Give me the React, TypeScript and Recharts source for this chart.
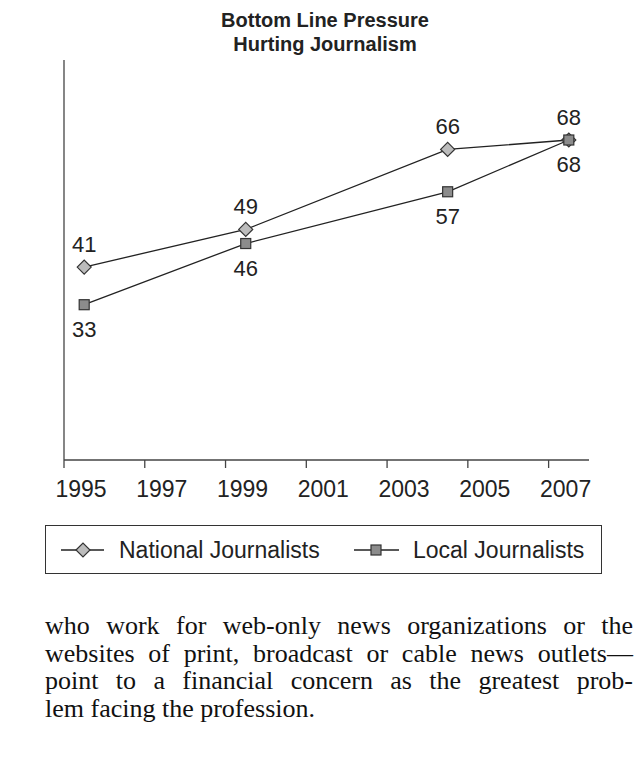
import React from "react";
import { LineChart, Line, XAxis, YAxis, LabelList } from "recharts";

const years = [1995.5, 1999.5, 2004.5, 2007.5];
const national = [41, 49, 66, 68];
const local = [33, 46, 57, 68];
const tickYears = [1995, 1997, 1999, 2001, 2003, 2005, 2007];

const data = years.map((year, i) => ({
  year,
  national: national[i],
  local: local[i],
}));

const FONT = "'Liberation Sans', Arial, sans-serif";
const INK = "#222";

const Diamond = (props: any) => {
  const { cx, cy } = props;
  if (cx == null || cy == null) return null;
  const r = 7;
  return (
    <path
      d={`M${cx - r},${cy} L${cx},${cy - r} L${cx + r},${cy} L${cx},${cy + r} Z`}
      fill="#bcbcbc"
      stroke="#333"
      strokeWidth={1.2}
    />
  );
};

const Square = (props: any) => {
  const { cx, cy } = props;
  if (cx == null || cy == null) return null;
  const h = 5;
  return (
    <rect x={cx - h} y={cy - h} width={h * 2} height={h * 2} fill="#8c8c8c" stroke="#333" strokeWidth={1.2} />
  );
};

const YearTick = (props: any) => {
  const { x, y, payload } = props;
  return (
    <text x={x + 17} y={y + 27} textAnchor="middle" fontSize={23} fontFamily={FONT} fill={INK}>
      {payload.value}
    </text>
  );
};

const labelAbove = (props: any) => (
  <text x={props.x} y={props.y - 15} textAnchor="middle" fontSize={22} fontFamily={FONT} fill={INK}>
    {props.value}
  </text>
);

const labelBelow = (props: any) => (
  <text x={props.x} y={props.y + 32} textAnchor="middle" fontSize={22} fontFamily={FONT} fill={INK}>
    {props.value}
  </text>
);

const paragraph = [
  "who work for web-only news organizations or the",
  "websites of print, broadcast or cable news outlets\u2014",
  "point to a financial concern as the greatest prob-",
  "lem facing the profession.",
];

export default function App() {
  return (
    <div style={{ position: "absolute", left: 0, top: 0, width: 640, height: 767, background: "#fff", overflow: "hidden" }}>
      {/* Title */}
      <div
        style={{
          position: "absolute",
          left: 0,
          top: 8,
          width: 650,
          textAlign: "center",
          fontFamily: FONT,
          fontWeight: 700,
          fontSize: 20,
          lineHeight: "24px",
          color: INK,
        }}
      >
        Bottom Line Pressure
        <br />
        Hurting Journalism
      </div>

      <div style={{ position: "absolute", left: 0, top: 0 }}>
        <LineChart width={640} height={520} data={data} margin={{ top: 60, right: 51, left: 63, bottom: 30 }}>
          <XAxis
            dataKey="year"
            type="number"
            domain={[1995, 2008]}
            ticks={tickYears}
            interval={0}
            tick={<YearTick />}
            tickSize={8}
            tickMargin={2}
            height={30}
            stroke="#444"
            strokeWidth={1.3}
          />
          <YAxis type="number" domain={[0, 85]} width={1} tick={false} tickLine={false} stroke="#444" strokeWidth={1.3} />
          <Line
            dataKey="national"
            stroke="#222"
            strokeWidth={1.3}
            dot={<Diamond />}
            activeDot={false}
            isAnimationActive={false}
          >
            <LabelList dataKey="national" content={labelAbove} />
          </Line>
          <Line
            dataKey="local"
            stroke="#222"
            strokeWidth={1.3}
            dot={<Square />}
            activeDot={false}
            isAnimationActive={false}
          >
            <LabelList dataKey="local" content={labelBelow} />
          </Line>
        </LineChart>
      </div>

      {/* Legend */}
      <div
        style={{
          position: "absolute",
          left: 45,
          top: 525,
          width: 555,
          height: 47,
          border: "1px solid #333",
        }}
      >
        <svg width={555} height={47} style={{ position: "absolute", left: 0, top: 0 }}>
          <line x1={15} x2={58} y1={24} y2={24} stroke="#222" strokeWidth={1.3} />
          <Diamond cx={37} cy={24} />
          <text x={73} y={32} fontSize={23} fontFamily={FONT} fill={INK}>National Journalists</text>
          <line x1={308} x2={353} y1={24} y2={24} stroke="#222" strokeWidth={1.3} />
          <Square cx={330} cy={24} />
          <text x={367} y={32} fontSize={23} fontFamily={FONT} fill={INK}>Local Journalists</text>
        </svg>
      </div>

      {/* Body text below the chart */}
      <div
        style={{
          position: "absolute",
          left: 45,
          top: 612,
          width: 590,
          fontFamily: "'Liberation Serif', 'Times New Roman', serif",
          fontSize: 26,
          lineHeight: "27.5px",
          color: "#111",
        }}
      >
        {paragraph.map((line, i) => (
          <div
            key={i}
            style={{
              width: 588,
              textAlign: i === paragraph.length - 1 ? "left" : "justify",
              textAlignLast: i === paragraph.length - 1 ? "left" : "justify",
              whiteSpace: "nowrap",
            }}
          >
            {line}
          </div>
        ))}
      </div>
    </div>
  );
}
